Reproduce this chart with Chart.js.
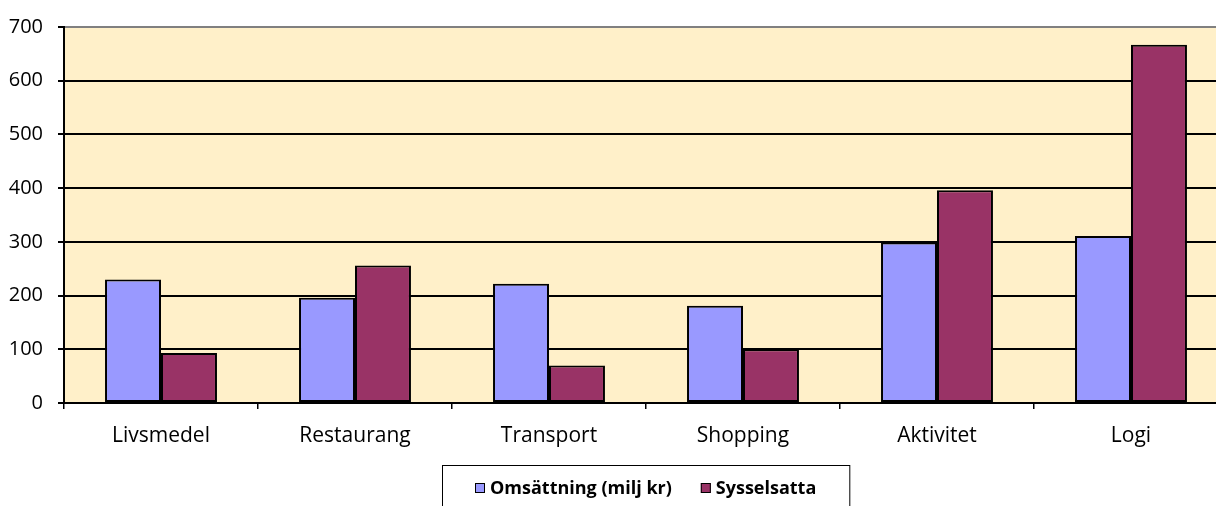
<!DOCTYPE html>
<html>
<head>
<meta charset="utf-8">
<script src="https://cdn.jsdelivr.net/npm/chart.js@4"></script>
<style>
  html, body { margin: 0; padding: 0; background: #fff; overflow: hidden; }
  #wrap { width: 1240px; height: 506px; position: relative; }
</style>
</head>
<body>
<div id="wrap"><canvas id="chart"></canvas></div>
<script>
// ===== DATA =====
const kategorier = ['Livsmedel', 'Restaurang', 'Transport', 'Shopping', 'Aktivitet', 'Logi'];
const omsattning = [230, 196, 222, 181, 299, 311];
const sysselsatta = [93, 256, 70, 100, 396, 667];
const yTicks = [0, 100, 200, 300, 400, 500, 600, 700];

const FONT = '"Open Sans", "Noto Sans", sans-serif';

// bakgrund i plotytan
const plotBg = {
  id: 'plotBg',
  beforeDraw(chart) {
    const { left, top, width, height } = chart.chartArea;
    const c = chart.ctx;
    c.save();
    c.fillStyle = '#FFF0C9';
    c.fillRect(left, top, width, height);
    c.restore();
  }
};

// legend med ram, som i Excel
const legendBox = {
  id: 'legendBox',
  afterDraw(chart) {
    const c = chart.ctx;
    const sets = chart.data.datasets;
    const box = 10, gap = 5, between = 29, pad = 33;
    c.save();
    c.font = 'bold 18px ' + FONT;
    const widths = sets.map(d => c.measureText(d.label).width);
    const total = widths.reduce((a, b) => a + b, 0) + sets.length * (box + gap) + (sets.length - 1) * between;
    const mid = (chart.chartArea.left + chart.chartArea.right) / 2;
    let x = Math.round(mid - total / 2);
    const y = 488;

    c.strokeStyle = '#000';
    c.lineWidth = 1;
    c.strokeRect(x - pad + 0.5, 465.5, total + pad * 2, 60);

    c.textBaseline = 'middle';
    c.textAlign = 'left';
    sets.forEach((d, i) => {
      c.fillStyle = d.backgroundColor;
      c.fillRect(x, y - box / 2, box, box);
      c.strokeRect(x + 0.5, y - box / 2 + 0.5, box - 1, box - 1);
      c.fillStyle = '#000';
      c.fillText(d.label, x + box + gap, y + 1);
      x += box + gap + widths[i] + between;
    });
    c.restore();
  }
};

new Chart(document.getElementById('chart'), {
  type: 'bar',
  data: {
    labels: kategorier,
    datasets: [
      {
        label: 'Omsättning (milj kr)',
        data: omsattning,
        backgroundColor: '#9999FF',
        borderColor: '#000',
        borderWidth: 2,
        borderSkipped: false
      },
      {
        label: 'Sysselsatta',
        data: sysselsatta,
        backgroundColor: '#993366',
        borderColor: '#000',
        borderWidth: 2,
        borderSkipped: false
      }
    ]
  },
  options: {
    responsive: true,
    maintainAspectRatio: false,
    animation: false,
    layout: { padding: { top: 25, right: 12, left: 0, bottom: 0 } },
    datasets: { bar: { categoryPercentage: 0.577, barPercentage: 1 } },
    plugins: {
      legend: { display: false },
      tooltip: { enabled: false }
    },
    scales: {
      x: {
        afterFit: s => { s.height = 103; },
        grid: { display: true, drawOnChartArea: false, tickLength: 6, color: '#000', lineWidth: 1.5 },
        border: { color: '#000', width: 2 },
        ticks: { color: '#000', font: { family: FONT, size: 21 }, padding: 14 }
      },
      y: {
        min: yTicks[0],
        max: yTicks[yTicks.length - 1],
        afterFit: s => { s.width = 64; },
        afterBuildTicks: s => { s.ticks = yTicks.map(v => ({ value: v })); },
        grid: {
          color: c => c.tick && c.tick.value === 700 ? '#808080' : '#000',
          lineWidth: 2,
          tickLength: 6,
          tickColor: '#000'
        },
        border: { color: '#000', width: 2 },
        ticks: { color: '#000', font: { family: FONT, size: 20 }, padding: 15 }
      }
    }
  },
  plugins: [plotBg, legendBox]
});
</script>
</body>
</html>
